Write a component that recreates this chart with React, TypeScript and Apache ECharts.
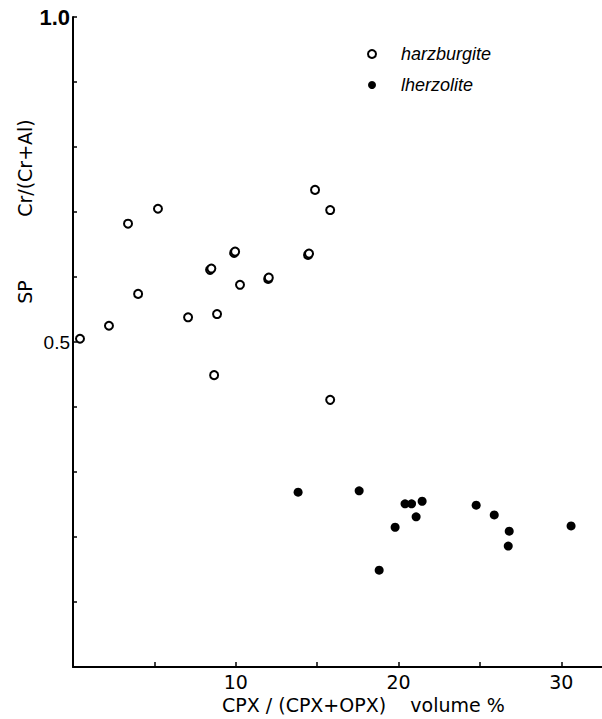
import React, { useEffect, useRef } from "react";
import * as echarts from "echarts";

const harzburgite: [number, number][] = [
  [0.43, 0.505], [2.21, 0.525], [3.38, 0.682], [4.0, 0.574], [5.22, 0.705],
  [7.07, 0.538], [8.42, 0.611], [8.5, 0.613], [8.67, 0.449], [8.85, 0.543],
  [9.9, 0.637], [9.96, 0.639], [10.26, 0.588], [11.99, 0.597], [12.03, 0.599],
  [14.44, 0.634], [14.5, 0.636], [14.87, 0.734], [15.8, 0.703], [15.8, 0.411],
];

const lherzolite: [number, number][] = [
  [13.83, 0.269], [17.58, 0.271], [20.4, 0.251], [20.8, 0.251], [21.45, 0.255],
  [21.08, 0.231], [19.79, 0.215], [18.81, 0.149], [24.77, 0.249], [25.88, 0.234],
  [26.8, 0.209], [26.74, 0.186], [30.6, 0.217],
];

const seriesNames = ["harzburgite", "lherzolite"];
const xTickLabels = [10, 20, 30];
const yTickLabels = [0.5, 1.0];
const xAxisTitle = "CPX / (CPX+OPX)    volume %";
const yAxisTitle = "Cr/(Cr+Al)";
const yAxisPrefix = "SP";

const FONT = "Liberation Sans";
const TFONT = "DejaVu Sans";

export default function App() {
  const ref = useRef<HTMLDivElement>(null);
  useEffect(() => {
    if (!ref.current) return;
    const chart = echarts.init(ref.current, null, { renderer: "svg" });
    chart.setOption({
      animation: false,
      backgroundColor: "#fff",
      textStyle: { fontFamily: FONT, color: "#000" },
      grid: { left: 73, right: 0, top: 17, bottom: 52 },
      legend: {
        orient: "vertical",
        left: 362,
        top: 40,
        itemWidth: 8,
        itemHeight: 8,
        itemGap: 13,
        textStyle: { fontFamily: FONT, fontStyle: "italic", fontSize: 18, color: "#000", padding: [0, 0, 0, 20] },
        data: seriesNames,
      },
      xAxis: {
        type: "value",
        min: 0,
        max: 32.5,
        interval: 5,
        splitLine: { show: false },
        axisLine: { lineStyle: { color: "#000", width: 2 } },
        axisTick: { inside: true, length: 5, lineStyle: { color: "#000", width: 1.5 } },
        axisLabel: {
          margin: 5,
          fontSize: 19,
          lineHeight: 19,
          color: "#000",
          fontFamily: TFONT,
          showMaxLabel: false,
          formatter: (v: number) => (xTickLabels.some((t) => Math.abs(t - v) < 1e-6) ? String(v) : ""),
        },
      },
      yAxis: {
        type: "value",
        min: 0,
        max: 1,
        interval: 0.1,
        splitLine: { show: false },
        axisLine: { lineStyle: { color: "#000", width: 2 } },
        axisTick: { inside: true, length: 4, lineStyle: { color: "#000", width: 1.5 } },
        axisLabel: {
          margin: 3,
          color: "#000",
          fontFamily: FONT,
          formatter: (v: number) => {
            const t = yTickLabels.find((y) => Math.abs(y - v) < 1e-6);
            if (t === undefined) return "";
            return t === 1 ? "{b|1.0}" : "{n|" + t.toFixed(1) + "}";
          },
          rich: {
            b: { fontSize: 22, fontWeight: "bold", fontFamily: FONT, color: "#000" },
            n: { fontSize: 19, fontFamily: FONT, color: "#000" },
          },
        },
      },
      series: [
        {
          name: seriesNames[0],
          type: "scatter",
          data: harzburgite,
          symbol: "circle",
          symbolSize: 8,
          itemStyle: { color: "#fff", borderColor: "#000", borderWidth: 2, opacity: 1 },
        },
        {
          name: seriesNames[1],
          type: "scatter",
          data: lherzolite,
          symbol: "circle",
          symbolSize: 9,
          itemStyle: { color: "#000", borderColor: "#000", borderWidth: 0, opacity: 1 },
        },
      ],
      graphic: [
        {
          type: "text",
          left: 222,
          top: 695,
          style: { text: xAxisTitle, font: `19px "${TFONT}"`, fill: "#000" },
        },
        {
          type: "text",
          x: 25,
          y: 168,
          rotation: Math.PI / 2,
          style: { text: yAxisTitle, font: `19px "${TFONT}"`, fill: "#000", align: "center", verticalAlign: "middle" },
        },
        {
          type: "text",
          x: 25,
          y: 292,
          rotation: Math.PI / 2,
          style: { text: yAxisPrefix, font: `19px "${TFONT}"`, fill: "#000", align: "center", verticalAlign: "middle" },
        },
      ],
    });
    return () => chart.dispose();
  }, []);
  return <div ref={ref} style={{ position: "absolute", left: 0, top: 0, width: 602, height: 719 }} />;
}
